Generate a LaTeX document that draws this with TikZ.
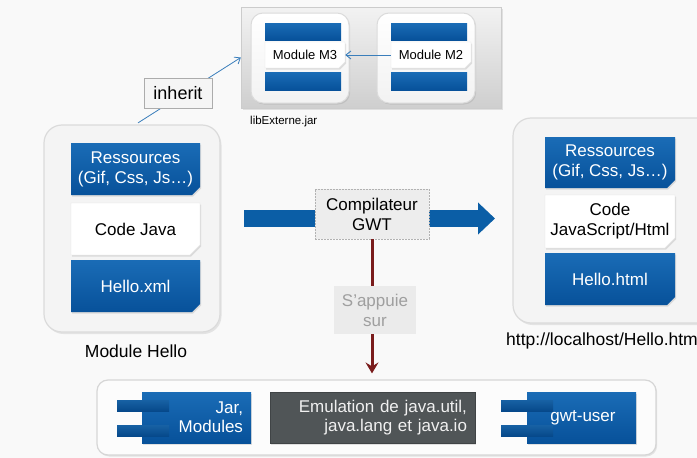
\documentclass[tikz,border=0pt]{standalone}
\usepackage{fontspec}
\setmainfont{Liberation Sans}
\usetikzlibrary{shapes.misc,arrows.meta,calc,shadows}
\newcommand\myfs[2]{\fontsize{#1}{#2}\selectfont}
\definecolor{bluetop}{HTML}{1A6CB6}
\definecolor{bluebot}{HTML}{07519A}
\definecolor{arrowblue}{HTML}{0B5EA6}
\definecolor{redline}{HTML}{7A1C1C}
\definecolor{linkblue}{HTML}{3A7EBB}
\definecolor{emugray}{HTML}{505557}
\definecolor{bgcol}{HTML}{F9F9F9}
\begin{document}
\begin{tikzpicture}[x=1pt,y=-1pt,
  softshadow/.style={drop shadow={opacity=0.22, shadow xshift=1.2pt, shadow yshift=-1.5pt}},
  blueblock/.style={chamfered rectangle, chamfered rectangle corners=south east,
    chamfered rectangle xsep=4pt, chamfered rectangle ysep=4pt, softshadow,
    top color=bluetop, bottom color=bluebot, draw=none, inner sep=0pt,
    text=white, align=center, font=\myfs{17}{20}},
  whiteblock/.style={chamfered rectangle, chamfered rectangle corners=south east,
    chamfered rectangle xsep=5pt, chamfered rectangle ysep=5pt, softshadow,
    fill=white, draw=gray!22, inner sep=0pt, text=black, align=center, font=\myfs{17}{20}},
  container/.style={rectangle, rounded corners=18pt, fill=gray!9, draw=gray!28, line width=1.2pt, inner sep=0pt,
    drop shadow={opacity=0.18, shadow xshift=1.5pt, shadow yshift=-2pt}},
  modbox/.style={rectangle, rounded corners=12pt, top color=white, bottom color=gray!10, draw=gray!28, line width=1pt, inner sep=0pt,
    drop shadow={opacity=0.2, shadow xshift=1.2pt, shadow yshift=-1.5pt}},
  bar/.style={rectangle, top color=bluetop, bottom color=bluebot, inner sep=0pt, minimum width=76pt},
  lug/.style={rectangle, top color=bluetop!90!black, bottom color=bluebot!90!black, inner sep=0pt, minimum width=52pt, minimum height=11pt},
  comp/.style={rectangle, inner sep=0pt, align=center, font=\myfs{17}{20}}
]
% background
\fill[bgcol] (0,0) rectangle (697,458);
\useasboundingbox (0,0) rectangle (697,458);

% ---------- libExterne.jar panel ----------
\node[rectangle, top color=gray!10, bottom color=gray!38, draw=gray!40, inner sep=0pt,
      minimum width=260pt, minimum height=101pt,
      drop shadow={opacity=0.2, shadow xshift=1.5pt, shadow yshift=-1.5pt}] (jar) at (371,57.5) {};
\node[modbox, minimum width=98pt, minimum height=90pt] (m3box) at (300,58) {};
\node[modbox, minimum width=98pt, minimum height=90pt] (m2box) at (426,58) {};
\node[bar, minimum height=17pt] (m3top) at (303,31.5) {};
\node[bar, minimum height=18pt] (m3bot) at (303,81) {};
\node[bar, minimum height=17pt] (m2top) at (429,31.5) {};
\node[bar, minimum height=18pt] (m2bot) at (429,81) {};
\node[whiteblock, chamfered rectangle xsep=3pt, chamfered rectangle ysep=3pt,
      minimum width=80pt, minimum height=26pt, font=\myfs{13}{15}] (m3) at (305,55) {Module M3};
\node[whiteblock, chamfered rectangle xsep=3pt, chamfered rectangle ysep=3pt,
      minimum width=80pt, minimum height=26pt, font=\myfs{13}{15}] (m2) at (431,55) {Module M2};
\draw[linkblue, line width=0.9pt, -{Straight Barb[length=5pt,width=8pt]}] (m2.west) -- (m3.east);
\node[anchor=west, inner sep=0pt, font=\myfs{11.5}{13}] (libname) at (250,122) {libExterne.jar};

% ---------- Module Hello ----------
\node[container, minimum width=176pt, minimum height=207pt] (hello) at (132,228.5) {};
\node[blueblock, minimum width=129pt, minimum height=52pt] (res1) at (135.5,169) {Ressources\\(Gif, Css, Js…)};
\node[whiteblock, minimum width=129pt, minimum height=52pt] (code1) at (135.5,229) {Code Java};
\node[blueblock, minimum width=129pt, minimum height=52pt] (xml1) at (135.5,286) {Hello.xml};
\node[font=\myfs{17.5}{20}, inner sep=0pt] (hellolab) at (136,351) {Module Hello};

% inherit link
\draw[linkblue, line width=0.8pt, -{Straight Barb[length=5pt,width=8pt]}] ($(hello.north)+(6,-1.5)$) -- (jar.west);
\node[rectangle, fill=gray!8, draw=gray!65, line width=0.8pt, inner sep=0pt,
      minimum width=68pt, minimum height=30pt, font=\myfs{18}{20}] (inherit) at (178,93) {inherit};

% ---------- Output ----------
\node[container, minimum width=204pt, minimum height=205pt] (out) at (615,220.5) {};
\node[blueblock, minimum width=130pt, minimum height=51pt] (res2) at (610,162.5) {Ressources\\(Gif, Css, Js…)};
\node[whiteblock, minimum width=130pt, minimum height=53pt] (code2) at (610,221.5) {Code\\JavaScript/Html};
\node[blueblock, minimum width=130pt, minimum height=52pt] (html2) at (610,279) {Hello.html};
\node[anchor=west, inner sep=0pt, font=\myfs{17.5}{20}] (url) at (506,341) {http://localhost/Hello.htm};

% ---------- big arrow ----------
\coordinate (astart) at (244,218.5);
\coordinate (aend) at (495,218.5);
\draw[arrowblue, line width=17pt, -{Triangle[length=17pt,width=31pt]}] (astart) -- (aend);
\node[comp, fill=gray!14, draw=gray!60, dashed, dash pattern=on 2pt off 1pt, line width=0.7pt,
      minimum width=114pt, minimum height=50pt] (compil) at (372,214) {Compilateur\\GWT};

% ---------- base panel ----------
\node[rectangle, rounded corners=11pt, fill=white!60!gray!5, draw=gray!32, line width=1.2pt, inner sep=0pt,
      minimum width=559pt, minimum height=75pt,
      drop shadow={opacity=0.18, shadow xshift=1.2pt, shadow yshift=-1.5pt}] (base) at (376.5,417.5) {};

% dependency arrow
\draw[redline, line width=3pt, -{Stealth[length=11pt,width=13pt,inset=4pt]}, shorten >=6pt]
  (compil.south) -- (compil.south |- base.north);
\node[comp, fill=gray!16, text=gray!75, minimum width=82pt, minimum height=48pt] (appui) at (375,310) {S’appuie\\sur};

% Jar, Modules component
\node[rectangle, top color=bluetop, bottom color=bluebot, inner sep=0pt, minimum width=109pt, minimum height=51pt, softshadow] (jarmod) at (196.5,417.5) {};
\node[lug] (jl1) at (143,405.5) {};
\node[lug] (jl2) at (143,430.5) {};
\node[text=white, align=right, text width=93pt, inner sep=0pt, font=\myfs{17}{19}] (jartxt) at (jarmod) {Jar,\\Modules};

% Emulation
\node[rectangle, fill=emugray, draw=emugray!80!black, line width=0.6pt, inner sep=0pt, minimum width=205pt, minimum height=51pt, softshadow] (emu) at (372.5,417.5) {};
\node[text=gray!12, align=right, text width=189pt, inner sep=0pt, font=\myfs{17}{19}] (emutxt) at (emu) {Emulation de java.util,\\java.lang et java.io};

% gwt-user component
\node[rectangle, top color=bluetop, bottom color=bluebot, inner sep=0pt, minimum width=109pt, minimum height=51pt, softshadow] (gwt) at (581.5,417.5) {};
\node[lug] (gl1) at (527,405.5) {};
\node[lug] (gl2) at (527,430.5) {};
\node[text=white, inner sep=0pt, font=\myfs{17}{19}] (gwttxt) at (583,417.5) {gwt-user};
\end{tikzpicture}
\end{document}
